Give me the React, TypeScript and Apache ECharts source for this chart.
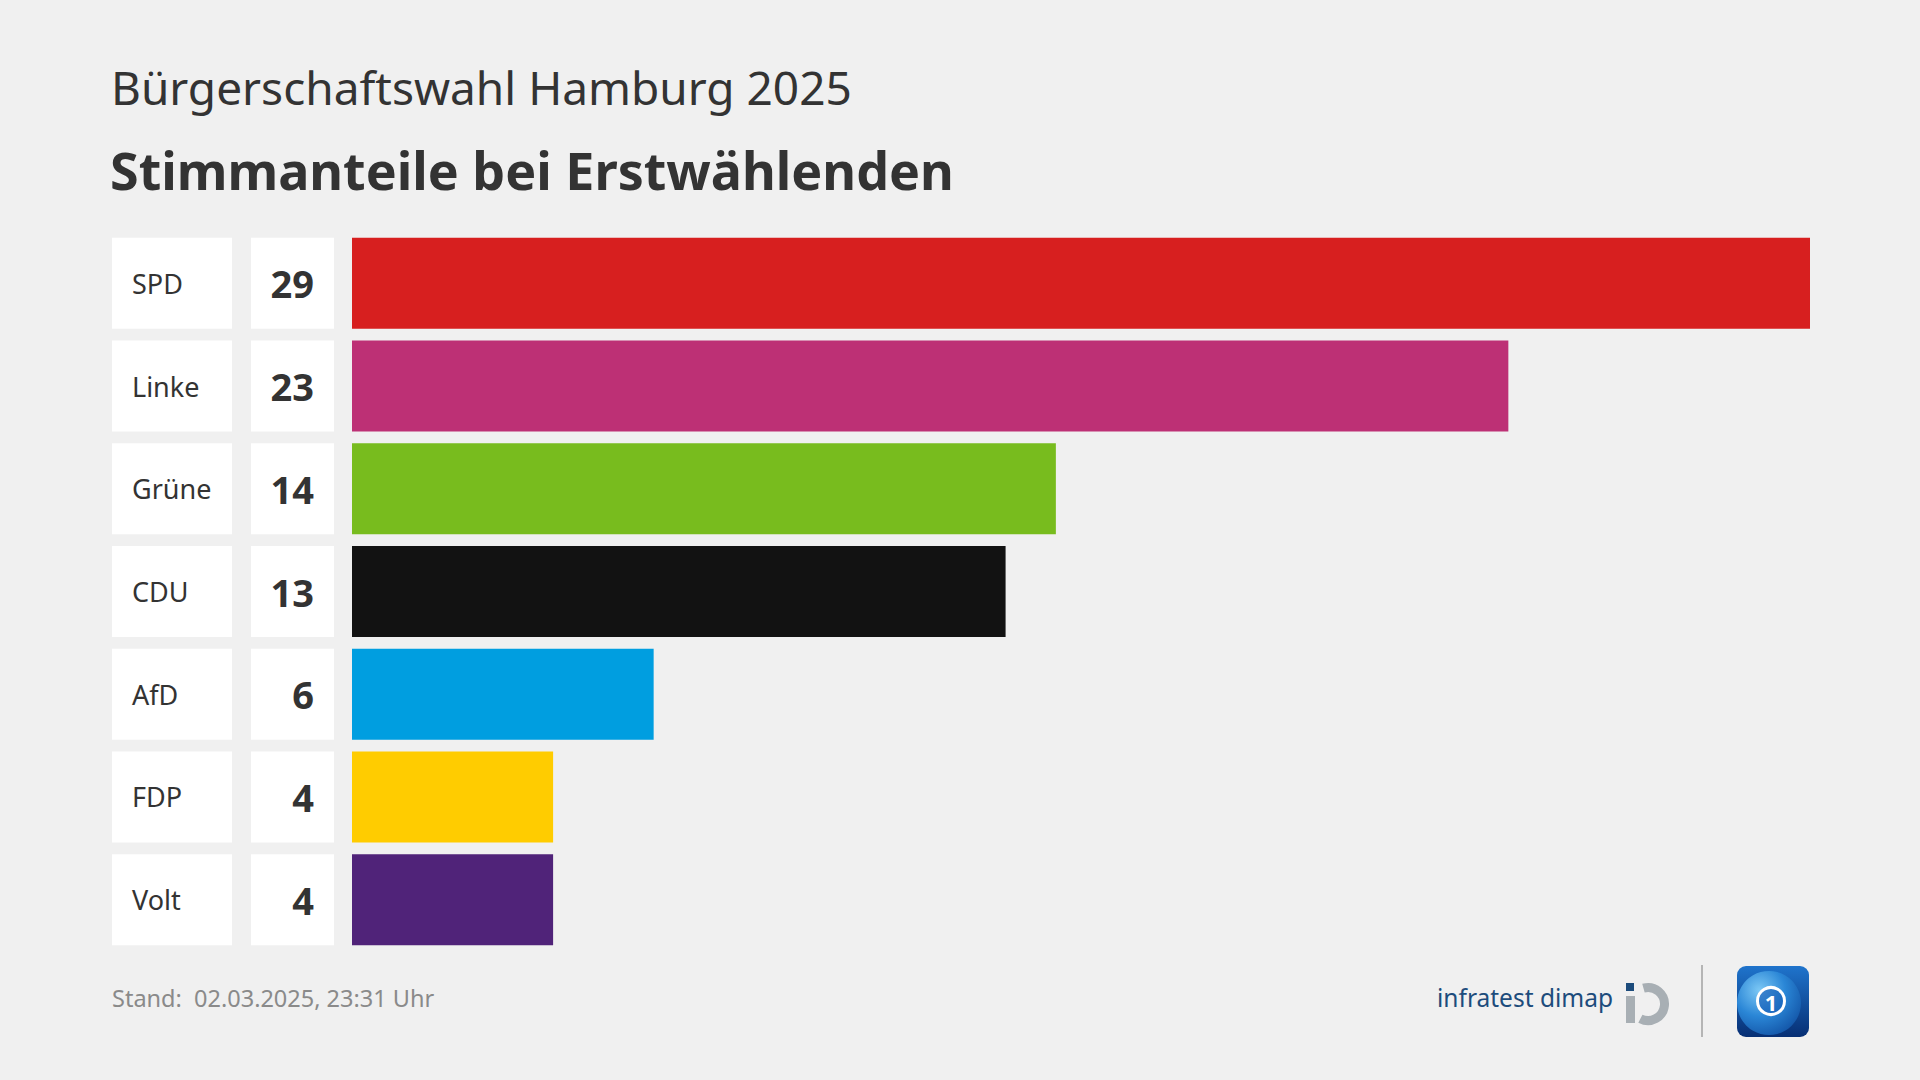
import React, { useEffect, useRef } from "react";
import * as echarts from "echarts";

const parties = ["SPD", "Linke", "Grüne", "CDU", "AfD", "FDP", "Volt"];
const shares = [29, 23, 14, 13, 6, 4, 4];
const partyColors = ["#d71f1f", "#bd3075", "#78bc1e", "#121212", "#009ee0", "#ffcc00", "#502379"];

const subtitle = "Bürgerschaftswahl Hamburg 2025";
const titleText = "Stimmanteile bei Erstwählenden";
const footnote = "Stand:  02.03.2025, 23:31 Uhr";
const sourceName = "infratest dimap";

const FONT = "'Noto Sans', 'Open Sans', sans-serif";

export default function App() {
  const ref = useRef<HTMLDivElement>(null);

  useEffect(() => {
    if (!ref.current) return;
    const chart = echarts.init(ref.current, undefined, { renderer: "svg" });
    chart.setOption({
      animation: false,
      backgroundColor: "#f0f0f0",
      textStyle: { fontFamily: FONT },
      grid: { left: 352, width: 1458, top: 232, height: 719, containLabel: false },
      xAxis: {
        type: "value",
        min: 0,
        max: 29,
        show: false,
      },
      yAxis: {
        type: "category",
        data: parties,
        inverse: true,
        axisLine: { show: false },
        axisTick: { show: false },
        splitLine: { show: false },
        axisLabel: {
          margin: 18,
          formatter: (v: string, i: number) => `{n|${v}}{g|}{v|${shares[i]}}`,
          rich: {
            n: {
              width: 100,
              height: 91,
              lineHeight: 91,
              padding: [0, 0, 0, 20],
              backgroundColor: "#ffffff",
              fontSize: 27,
              color: "#333333",
              fontFamily: FONT,
              align: "left",
            },
            g: { width: 19, height: 91 },
            v: {
              width: 63,
              height: 91,
              lineHeight: 91,
              padding: [0, 20, 0, 0],
              backgroundColor: "#ffffff",
              fontSize: 38,
              fontWeight: "bold",
              color: "#333333",
              fontFamily: FONT,
              align: "right",
            },
          },
        },
      },
      series: [
        {
          type: "bar",
          data: shares.map((s, i) => ({ value: s, itemStyle: { color: partyColors[i] } })),
          barWidth: 91,
          silent: true,
        },
      ],
      graphic: [
        {
          type: "text",
          left: 111,
          top: 64,
          style: { text: subtitle, fontSize: 46, fill: "#333333", fontFamily: FONT },
        },
        {
          type: "text",
          left: 110,
          top: 143,
          style: { text: titleText, fontSize: 52, fontWeight: "bold", fill: "#333333", fontFamily: FONT },
        },
        {
          type: "text",
          left: 112,
          top: 986,
          style: { text: footnote, fontSize: 23.5, fill: "#8a8a8a", fontFamily: FONT },
        },
        {
          type: "text",
          left: 1437,
          top: 985,
          style: { text: sourceName, fontSize: 24.5, fill: "#1d4c7c", fontFamily: FONT },
        },
        { type: "rect", shape: { x: 1626, y: 983, width: 8, height: 8 }, style: { fill: "#1d4c7c" } },
        { type: "rect", shape: { x: 1626, y: 996, width: 9, height: 27 }, style: { fill: "#a8afb4" } },
        {
          type: "arc",
          shape: { cx: 1648, cy: 1004, r: 16.5, startAngle: -1.85, endAngle: 2.05, clockwise: true },
          style: { stroke: "#a8afb4", lineWidth: 9, fill: "none" },
        },
        {
          type: "line",
          shape: { x1: 1702, y1: 965, x2: 1702, y2: 1037 },
          style: { stroke: "#b5b5b5", lineWidth: 2 },
        },
        {
          type: "rect",
          shape: { x: 1737, y: 966, width: 72, height: 71, r: 9 },
          style: {
            fill: new echarts.graphic.LinearGradient(0, 0, 0, 1, [
              { offset: 0, color: "#1f74cc" },
              { offset: 1, color: "#072f74" },
            ]),
          },
        },
        {
          type: "circle",
          shape: { cx: 1769, cy: 1003, r: 32 },
          style: {
            fill: new echarts.graphic.RadialGradient(0.35, 0.3, 0.9, [
              { offset: 0, color: "#7cc8f5" },
              { offset: 0.45, color: "#2a86d6" },
              { offset: 1, color: "#0b4497" },
            ]),
          },
        },
        {
          type: "circle",
          shape: { cx: 1771, cy: 1001, r: 13.5 },
          style: { fill: "rgba(20,90,180,0.6)", stroke: "#ffffff", lineWidth: 3 },
        },
        {
          type: "text",
          x: 1771,
          y: 1002,
          style: {
            text: "1",
            fontSize: 22,
            fontWeight: "bold",
            fill: "#ffffff",
            align: "center",
            verticalAlign: "middle",
            fontFamily: FONT,
          },
        },
      ],
    });
    return () => chart.dispose();
  }, []);

  return <div ref={ref} style={{ width: 1920, height: 1080, position: "absolute", left: 0, top: 0 }} />;
}
